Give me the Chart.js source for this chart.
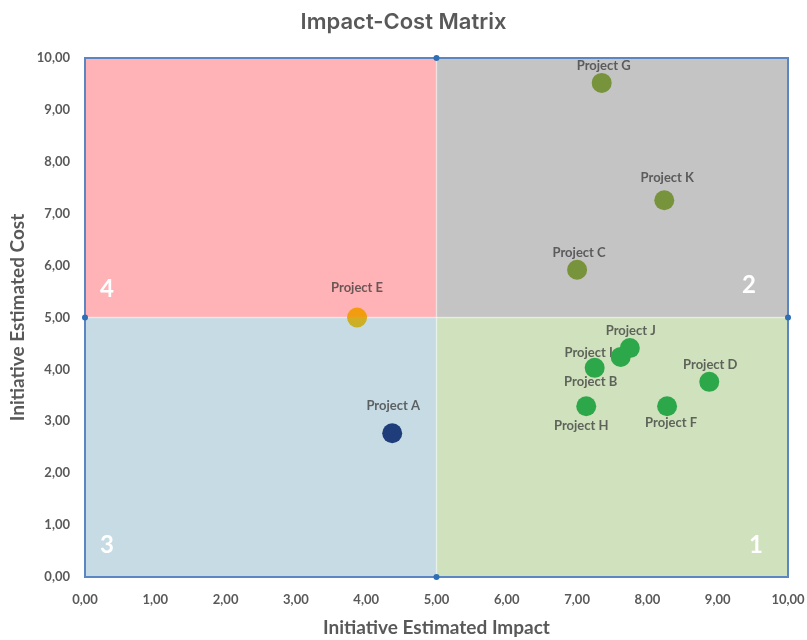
<!DOCTYPE html>
<html>
<head>
<meta charset="utf-8">
<title>Impact-Cost Matrix</title>
<script src="https://cdn.jsdelivr.net/npm/chart.js@4/dist/chart.umd.min.js"></script>
<style>
  html, body { margin: 0; padding: 0; background: #fff; }
  #wrap { width: 807px; height: 640px; }
</style>
</head>
<body>
<div id="wrap"><canvas id="matrix" width="807" height="640"></canvas></div>
<script>
// chart values
const projectNames = ['Project A', 'Project B', 'Project C', 'Project D', 'Project E', 'Project F',
                      'Project G', 'Project H', 'Project I', 'Project J', 'Project K'];
const impactValues = [4.37, 7.25, 7.00, 8.88, 3.87, 8.28, 7.35, 7.13, 7.62, 7.75, 8.24];
const costValues   = [2.77, 4.03, 5.92, 3.76, 5.00, 3.29, 9.52, 3.29, 4.24, 4.41, 7.26];
const axisMin = 0;
const axisMax = 10;
const splitValue = 5;
const tickValues = [0, 1, 2, 3, 4, 5, 6, 7, 8, 9, 10];
const quadrantLabels = ['1', '2', '3', '4'];

// styling
const pointColors = ['#1f3d7a', '#2ca84a', '#77933c', '#2ca84a', '#f29a12', '#2ca84a',
                     '#77933c', '#2ca84a', '#2ca84a', '#2ca84a', '#77933c'];
const labelOffsets = [[1, -27], [-4, 14], [2, -17], [1, -17], [0, -30], [4, 17],
                      [2, -17], [-5, 20], [-32, -4], [1, -17], [3, -22]];
const textGray = '#595959';
const fmt = v => Number(v).toFixed(2).replace('.', ',');

// project E sits on the split line: orange on top, gold below
function pointFill(c) {
    const base = pointColors[c.dataIndex];
    if (c.dataIndex !== 4 || !c.chart.chartArea) return base;
    const py = c.chart.scales.y.getPixelForValue(costValues[4]);
    const g = c.chart.ctx.createLinearGradient(0, py - 10, 0, py + 10);
    g.addColorStop(0, '#f59a0c');
    g.addColorStop(0.5, '#ef9e14');
    g.addColorStop(0.5, '#d4ad22');
    g.addColorStop(1, '#c6b02c');
    return g;
}

const quadrantPlugin = {
    id: 'quadrants',
    beforeDatasetsDraw(chart) {
        const { ctx, chartArea: a, scales: { x, y } } = chart;
        const mx = x.getPixelForValue(splitValue);
        const my = y.getPixelForValue(splitValue);
        ctx.save();
        ctx.fillStyle = '#ffb3b6'; ctx.fillRect(a.left, a.top, mx - a.left, my - a.top);
        ctx.fillStyle = '#c4c4c4'; ctx.fillRect(mx, a.top, a.right - mx, my - a.top);
        ctx.fillStyle = '#c6dbe3'; ctx.fillRect(a.left, my, mx - a.left, a.bottom - my);
        ctx.fillStyle = '#d0e1be'; ctx.fillRect(mx, my, a.right - mx, a.bottom - my);

        ctx.strokeStyle = '#5b86c2';
        ctx.lineWidth = 2;
        ctx.strokeRect(a.left, a.top, a.right - a.left, a.bottom - a.top);

        // quadrant numbers
        ctx.fillStyle = '#ffffff';
        ctx.font = 'bold 24px Lato';
        ctx.textAlign = 'center';
        ctx.textBaseline = 'middle';
        ctx.fillText(quadrantLabels[0], a.right - 32, a.bottom - 32);
        ctx.fillText(quadrantLabels[1], a.right - 39, my - 32);
        ctx.fillText(quadrantLabels[2], a.left + 22, a.bottom - 32);
        ctx.fillText(quadrantLabels[3], a.left + 22, my - 28);

        // project labels (under the dots, like the original)
        ctx.font = 'bold 13px Lato';
        ctx.fillStyle = 'rgba(50,50,50,0.72)';
        projectNames.forEach((name, i) => {
            const px = x.getPixelForValue(impactValues[i]);
            const py = y.getPixelForValue(costValues[i]);
            ctx.fillText(name, px + labelOffsets[i][0], py + labelOffsets[i][1]);
        });
        ctx.restore();
    }
};

const points = impactValues.map((v, i) => ({ x: v, y: costValues[i] }));

new Chart(document.getElementById('matrix'), {
    type: 'scatter',
    data: {
        datasets: [{
            label: 'Projects',
            data: points,
            backgroundColor: pointFill,
            borderWidth: 0,
            pointRadius: 10,
            pointHoverRadius: 10,
            order: 1
        }, {
            label: 'vertical split',
            data: [{ x: splitValue, y: axisMin }, { x: splitValue, y: axisMax }],
            showLine: true,
            borderColor: 'rgba(255,255,255,0.4)',
            borderWidth: 1.5,
            pointRadius: 3,
            pointBackgroundColor: '#2e6fb5',
            pointBorderWidth: 0,
            clip: false,
            order: 2
        }, {
            label: 'horizontal split',
            data: [{ x: axisMin, y: splitValue }, { x: axisMax, y: splitValue }],
            showLine: true,
            borderColor: 'rgba(255,255,255,0.4)',
            borderWidth: 1.5,
            pointRadius: 3,
            pointBackgroundColor: '#2e6fb5',
            pointBorderWidth: 0,
            clip: false,
            order: 2
        }]
    },
    options: {
        responsive: false,
        animation: false,
        layout: { padding: { left: 0, right: 0, top: 0, bottom: 0 } },
        plugins: {
            legend: { display: false },
            tooltip: { enabled: false },
            title: {
                display: true,
                text: 'Impact-Cost Matrix',
                color: textGray,
                font: { family: 'Inter', size: 22, weight: '600' },
                padding: { top: 9, bottom: 22.6 }
            }
        },
        scales: {
            x: {
                type: 'linear',
                min: axisMin,
                max: axisMax,
                afterBuildTicks: s => { s.ticks = tickValues.map(v => ({ value: v })); },
                afterFit: s => { s.height = 63; s.paddingLeft = 0; s.paddingRight = 19; },
                grid: { display: false, drawTicks: false },
                border: { display: false },
                ticks: { callback: fmt, color: textGray, font: { family: 'Lato', size: 13, weight: 'bold' }, padding: 15, maxRotation: 0 },
                title: {
                    display: true,
                    text: 'Initiative Estimated Impact',
                    color: textGray,
                    font: { family: 'Lato', size: 19, weight: 'bold' },
                    padding: { top: 0, bottom: 0.6 }
                }
            },
            y: {
                type: 'linear',
                min: axisMin,
                max: axisMax,
                afterBuildTicks: s => { s.ticks = tickValues.map(v => ({ value: v })); },
                afterFit: s => { s.width = 85; },
                grid: { display: false, drawTicks: false },
                border: { display: false },
                ticks: { callback: fmt, color: textGray, font: { family: 'Lato', size: 13, weight: 'bold' }, padding: 15 },
                title: {
                    display: true,
                    text: 'Initiative Estimated Cost',
                    color: textGray,
                    font: { family: 'Lato', size: 19, weight: 'bold' },
                    padding: { top: 6.6, bottom: 0 }
                }
            }
        }
    },
    plugins: [quadrantPlugin]
});
</script>
</body>
</html>
